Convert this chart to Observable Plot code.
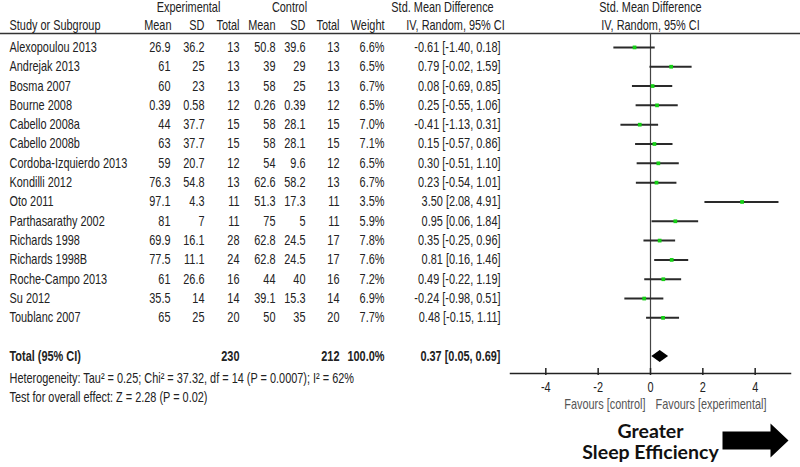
<!DOCTYPE html>
<html>
<head>
<meta charset="utf-8">
<script src="https://cdn.jsdelivr.net/npm/d3@7"></script>
<script src="https://cdn.jsdelivr.net/npm/@observablehq/plot@0.6"></script>
<style>
  html, body { margin: 0; padding: 0; background: #fff; overflow: hidden; }
</style>
</head>
<body>
<div id="chart"></div>
<script>
// ---- data ----
const studies = ["Alexopoulou 2013","Andrejak 2013","Bosma 2007","Bourne 2008","Cabello 2008a","Cabello 2008b","Cordoba-Izquierdo 2013","Kondilli 2012","Oto 2011","Parthasarathy 2002","Richards 1998","Richards 1998B","Roche-Campo 2013","Su 2012","Toublanc 2007"];
const expMean  = [26.9, 61, 60, 0.39, 44, 63, 59, 76.3, 97.1, 81, 69.9, 77.5, 61, 35.5, 65];
const expSD    = [36.2, 25, 23, 0.58, 37.7, 37.7, 20.7, 54.8, 4.3, 7, 16.1, 11.1, 26.6, 14, 25];
const expTotal = [13, 13, 13, 12, 15, 15, 12, 13, 11, 11, 28, 24, 16, 14, 20];
const ctrlMean = [50.8, 39, 58, 0.26, 58, 58, 54, 62.6, 51.3, 75, 62.8, 62.8, 44, 39.1, 50];
const ctrlSD   = [39.6, 29, 25, 0.39, 28.1, 28.1, 9.6, 58.2, 17.3, 5, 24.5, 24.5, 40, 15.3, 35];
const ctrlTotal= [13, 13, 13, 12, 15, 15, 12, 13, 11, 11, 17, 17, 16, 14, 20];
const weight   = [6.6, 6.5, 6.7, 6.5, 7.0, 7.1, 6.5, 6.7, 3.5, 5.9, 7.8, 7.6, 7.2, 6.9, 7.7];
const smd      = [-0.61, 0.79, 0.08, 0.25, -0.41, 0.15, 0.30, 0.23, 3.50, 0.95, 0.35, 0.81, 0.49, -0.24, 0.48];
const ciLow    = [-1.40, -0.02, -0.69, -0.55, -1.13, -0.57, -0.51, -0.54, 2.08, 0.06, -0.25, 0.16, -0.22, -0.98, -0.15];
const ciHigh   = [0.18, 1.59, 0.85, 1.06, 0.31, 0.86, 1.10, 1.01, 4.91, 1.84, 0.96, 1.46, 1.19, 0.51, 1.11];

const totalLabel = "Total (95% CI)";
const totalExp = 230, totalCtrl = 212, totalWeight = 100.0;
const totalSmd = 0.37, totalLow = 0.05, totalHigh = 0.69;

const heterogeneityText = "Heterogeneity: Tau\u00b2 = 0.25; Chi\u00b2 = 37.32, df = 14 (P = 0.0007); I\u00b2 = 62%";
const overallText = "Test for overall effect: Z = 2.28 (P = 0.02)";
const axisTicks = [-4, -2, 0, 2, 4];
const axisExtent = [-5.35, 5.35];
const favourLeft = "Favours [control]";
const favourRight = "Favours [experimental]";
const bottomLines = ["Greater", "Sleep Efficiency"];

// ---- layout ----
const W = 800, H = 467;
const mL = 510, mR = 10, mT = 33, mB = 94;
const totalRow = studies.length + 1;
const yDomain = [-0.72, 16.88];

const fmtNum = v => String(v);
const f2 = v => v.toFixed(2);
const ciStr = (e, l, h) => `${f2(e)} [${f2(l)}, ${f2(h)}]`;

const rows = studies.map((s, i) => ({
  i, study: s,
  eM: fmtNum(expMean[i]), eS: fmtNum(expSD[i]), eT: String(expTotal[i]),
  cM: fmtNum(ctrlMean[i]), cS: fmtNum(ctrlSD[i]), cT: String(ctrlTotal[i]),
  w: weight[i].toFixed(1) + "%",
  smd: smd[i], lo: ciLow[i], hi: ciHigh[i],
  ci: ciStr(smd[i], ciLow[i], ciHigh[i])
}));

// column right edges (pixels)
const col = { study: 9, eM: 170, eS: 204, eT: 239, cM: 275, cS: 305, cT: 339, w: 384, ci: 500 };
const dxOf = px => px - mL;

const textColor = "#222";
const font = "'Liberation Sans', Arial, sans-serif";
const narrow = 0.78;       // horizontal condensing of the table font

function colText(field, px, anchor = "end", extra = {}) {
  return Plot.text(rows, {y: "i", text: field, frameAnchor: "left", dx: dxOf(px), textAnchor: anchor, lineAnchor: "middle", fill: textColor, ...extra});
}
function headerText(str, px, yPx, anchor) {
  return Plot.text([str], {frameAnchor: "top-left", dx: dxOf(px), dy: yPx - mT, textAnchor: anchor, lineAnchor: "middle", fill: textColor});
}
function totalText(str, px, anchor = "end") {
  return Plot.text([str], {y: [totalRow], frameAnchor: "left", dx: dxOf(px), textAnchor: anchor, lineAnchor: "middle", fontWeight: "bold", fill: textColor});
}

const diamond = [
  {x: totalLow, h: 0},
  {x: totalSmd, h: 0.31},
  {x: totalHigh, h: 0}
];

const arrowSymbol = {
  draw(ctx) {
    ctx.moveTo(-33, -9);
    ctx.lineTo(15, -9);
    ctx.lineTo(15, -17);
    ctx.lineTo(33, 0);
    ctx.lineTo(15, 17);
    ctx.lineTo(15, 9);
    ctx.lineTo(-33, 9);
    ctx.closePath();
  }
};

const chart = Plot.plot({
  width: W, height: H,
  marginLeft: mL, marginRight: mR, marginTop: mT, marginBottom: mB,
  style: {fontFamily: font, fontSize: "14px", color: textColor, background: "#fff"},
  x: {domain: axisExtent, axis: null},
  y: {domain: yDomain, reverse: true, axis: null},
  marks: [
    // header rule across full width
    Plot.frame({anchor: "top", insetLeft: -mL, insetRight: -mR, stroke: "#333", strokeWidth: 1.5}),
    // headers line 1
    headerText("Experimental", 188, 7, "middle"),
    headerText("Control", 289, 7, "middle"),
    headerText("Std. Mean Difference", 442, 7, "middle"),
    Plot.text(["Std. Mean Difference"], {x: [0], frameAnchor: "top", dy: 7 - mT, textAnchor: "middle", lineAnchor: "middle", fill: textColor}),
    // headers line 2
    headerText("Study or Subgroup", col.study, 25, "start"),
    headerText("Mean", col.eM + 1, 25, "end"),
    headerText("SD", col.eS, 25, "end"),
    headerText("Total", col.eT, 25, "end"),
    headerText("Mean", col.cM, 25, "end"),
    headerText("SD", col.cS, 25, "end"),
    headerText("Total", col.cT, 25, "end"),
    headerText("Weight", col.w, 25, "end"),
    headerText("IV, Random, 95% CI", 455, 25, "middle"),
    Plot.text(["IV, Random, 95% CI"], {x: [0], frameAnchor: "top", dy: 25 - mT, textAnchor: "middle", lineAnchor: "middle", fill: textColor}),
    // table body
    colText("study", col.study, "start"),
    colText("eM", col.eM), colText("eS", col.eS), colText("eT", col.eT),
    colText("cM", col.cM), colText("cS", col.cS), colText("cT", col.cT),
    colText("w", col.w), colText("ci", col.ci),
    // total row
    totalText(totalLabel, col.study, "start"),
    totalText(String(totalExp), col.eT),
    totalText(String(totalCtrl), col.cT),
    totalText(totalWeight.toFixed(1) + "%", col.w),
    totalText(ciStr(totalSmd, totalLow, totalHigh), col.ci),
    // footnotes
    Plot.text([heterogeneityText], {frameAnchor: "bottom-left", dx: dxOf(col.study), dy: 5, textAnchor: "start", lineAnchor: "middle", fill: textColor}),
    Plot.text([overallText], {frameAnchor: "bottom-left", dx: dxOf(col.study), dy: 24, textAnchor: "start", lineAnchor: "middle", fill: textColor}),
    // forest plot
    Plot.ruleX([0], {stroke: "#444", strokeWidth: 1.2}),
    Plot.ruleY(rows, {y: "i", x1: "lo", x2: "hi", stroke: "#2a2a2a", strokeWidth: 2}),
    Plot.dot(rows, {x: "smd", y: "i", symbol: "square", r: 2.1, fill: "#14d014", stroke: "none"}),
    Plot.areaY(diamond, {x: "x", y1: d => totalRow - d.h, y2: d => totalRow + d.h, fill: "#000"}),
    // axis
    Plot.frame({anchor: "bottom", stroke: "#222", strokeWidth: 1.5}),
    Plot.axisX({ticks: axisTicks, tickSize: 7, dy: -5, tickPadding: 7, tickFormat: d => d < 0 ? "-" + Math.abs(d) : String(d), label: null, stroke: "#222", strokeWidth: 1.5, fill: textColor}),
    Plot.text([favourLeft], {x: [0], frameAnchor: "bottom", dx: -5, dy: 31, textAnchor: "end", lineAnchor: "middle", fill: "#555"}),
    Plot.text([favourRight], {x: [0], frameAnchor: "bottom", dx: 5, dy: 31, textAnchor: "start", lineAnchor: "middle", fill: "#555"}),
    // bottom annotation
    Plot.text([bottomLines[0]], {x: [0], frameAnchor: "bottom", dy: 58, textAnchor: "middle", lineAnchor: "middle", fontWeight: "bold", fontSize: 19.5, fontFamily: "Lato, 'Open Sans', sans-serif", fill: "#111"}),
    Plot.text([bottomLines[1]], {x: [0], frameAnchor: "bottom", dy: 79, textAnchor: "middle", lineAnchor: "middle", fontWeight: "bold", fontSize: 19.5, fontFamily: "Lato, 'Open Sans', sans-serif", fill: "#111"}),
    Plot.dot([null], {x: null, y: null, frameAnchor: "bottom-right", dx: 755 - (W - mR), dy: 440 - (H - mB), symbol: arrowSymbol, fill: "#000", stroke: "none"})
  ]
});

document.getElementById("chart").appendChild(chart);

// condense the table labels horizontally (the reference uses a narrow face)
chart.querySelectorAll("text").forEach(t => {
  if (bottomLines.includes(t.textContent)) return;
  if (t.hasAttribute("x")) {
    t.setAttribute("textLength", (t.getComputedTextLength() * narrow).toFixed(2));
    t.setAttribute("lengthAdjust", "spacingAndGlyphs");
    return;
  }
  const tr = t.getAttribute("transform") || "";
  t.setAttribute("transform", `${tr} scale(${narrow},1)`.trim());
});
</script>
</body>
</html>
